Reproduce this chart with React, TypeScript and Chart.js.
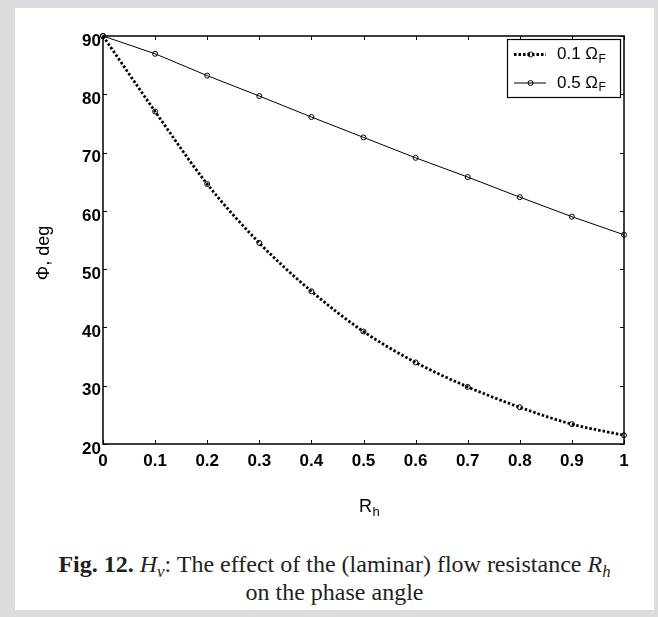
import React, { useEffect, useRef } from "react";
import { Chart, registerables } from "chart.js";

Chart.register(...registerables);

// ---- data ----
const xValues = [0, 0.1, 0.2, 0.3, 0.4, 0.5, 0.6, 0.7, 0.8, 0.9, 1];
const xTickLabels = ["0", "0.1", "0.2", "0.3", "0.4", "0.5", "0.6", "0.7", "0.8", "0.9", "1"];
const yTicks = [20, 30, 40, 50, 60, 70, 80, 90];
const yTickLabels = ["20", "30", "40", "50", "60", "70", "80", "90"];
const series01 = [90, 77.05, 64.6, 54.5, 46.2, 39.3, 34.0, 29.8, 26.3, 23.4, 21.5];
const series05 = [90, 86.95, 83.2, 79.7, 76.1, 72.6, 69.1, 65.8, 62.35, 59.0, 55.9];
const seriesNames = ["0.1 \u03A9", "0.5 \u03A9"];
const seriesSub = ["F", "F"];
const yTitle = "\u03A6, deg";
const xTitleMain = "R";
const xTitleSub = "h";

const SANS = "'Liberation Sans', Arial, sans-serif";

const overlayPlugin = {
  id: "overlay",
  afterDatasetsDraw(chart: any) {
    const { ctx, chartArea: a, scales } = chart;
    ctx.save();
    ctx.strokeStyle = "#000";
    ctx.lineWidth = 1;
    const tl = 4;
    ctx.beginPath();
    scales.x.ticks.forEach((t: any) => {
      const px = Math.round(scales.x.getPixelForValue(t.value)) + 0.5;
      ctx.moveTo(px, a.bottom);
      ctx.lineTo(px, a.bottom - tl);
      ctx.moveTo(px, a.top);
      ctx.lineTo(px, a.top + tl);
    });
    scales.y.ticks.forEach((t: any) => {
      const py = Math.round(scales.y.getPixelForValue(t.value)) + 0.5;
      ctx.moveTo(a.left, py);
      ctx.lineTo(a.left + tl, py);
      ctx.moveTo(a.right, py);
      ctx.lineTo(a.right - tl, py);
    });
    ctx.stroke();
    ctx.lineWidth = 1.5;
    ctx.strokeRect(a.left, a.top, a.right - a.left, a.bottom - a.top);
    ctx.restore();
  },
  afterDraw(chart: any) {
    const { ctx } = chart;
    ctx.save();
    ctx.fillStyle = "#000";
    // y title
    ctx.save();
    ctx.translate(29, 245);
    ctx.rotate(-Math.PI / 2);
    ctx.font = `18px ${SANS}`;
    ctx.textAlign = "center";
    ctx.textBaseline = "middle";
    ctx.fillText(yTitle, 0, 0);
    ctx.restore();
    // x title
    ctx.font = `18px ${SANS}`;
    ctx.textAlign = "left";
    ctx.textBaseline = "alphabetic";
    ctx.fillText(xTitleMain, 344, 504);
    const rw = ctx.measureText(xTitleMain).width;
    ctx.font = `13px ${SANS}`;
    ctx.fillText(xTitleSub, 344 + rw + 0.5, 508);

    // legend
    const bx = 492, by = 31, bw = 113, bh = 58;
    ctx.fillStyle = "#fff";
    ctx.fillRect(bx, by, bw, bh);
    ctx.strokeStyle = "#000";
    ctx.lineWidth = 1.2;
    ctx.strokeRect(bx + 0.5, by + 0.5, bw, bh);
    const rows = [46.5, 75];
    chart.data.datasets.forEach((ds: any, i: number) => {
      const y = rows[i];
      ctx.save();
      ctx.strokeStyle = ds.borderColor;
      ctx.lineWidth = ds.borderWidth;
      ctx.setLineDash(ds.borderDash || []);
      ctx.beginPath();
      ctx.moveTo(499, y);
      ctx.lineTo(531, y);
      ctx.stroke();
      ctx.setLineDash([]);
      ctx.lineWidth = ds.pointBorderWidth;
      ctx.beginPath();
      ctx.arc(515.5, y, ds.pointRadius, 0, Math.PI * 2);
      ctx.stroke();
      ctx.restore();
      ctx.fillStyle = "#000";
      ctx.font = `17px ${SANS}`;
      ctx.textBaseline = "middle";
      ctx.textAlign = "left";
      ctx.fillText(seriesNames[i], 542, y);
      const w = ctx.measureText(seriesNames[i]).width;
      ctx.font = `12px ${SANS}`;
      ctx.fillText(seriesSub[i], 542 + w + 0.5, y + 5);
    });
    ctx.restore();
  },
};

export default function App() {
  const ref = useRef<HTMLCanvasElement>(null);
  useEffect(() => {
    const chart = new Chart(ref.current as HTMLCanvasElement, {
      type: "line",
      data: {
        datasets: [
          {
            label: seriesNames[0],
            data: xValues.map((x, i) => ({ x, y: series01[i] })),
            borderColor: "#000",
            borderWidth: 2.8,
            borderDash: [2.5, 2],
            pointRadius: 2.5,
            pointBorderWidth: 1,
            pointBorderColor: "#000",
            pointBackgroundColor: "transparent",
            cubicInterpolationMode: "monotone",
            fill: false,
            clip: false,
          } as any,
          {
            label: seriesNames[1],
            data: xValues.map((x, i) => ({ x, y: series05[i] })),
            borderColor: "#000",
            borderWidth: 1,
            pointRadius: 2.5,
            pointBorderWidth: 1,
            pointBorderColor: "#000",
            pointBackgroundColor: "transparent",
            tension: 0,
            fill: false,
            clip: false,
          } as any,
        ],
      },
      options: {
        responsive: false,
        animation: false,
        events: [],
        layout: { padding: { left: 0, top: 28, right: 30, bottom: 0 } },
        plugins: { legend: { display: false }, tooltip: { enabled: false } },
        scales: {
          x: {
            type: "linear",
            min: 0,
            max: 1,
            afterBuildTicks: (s: any) => {
              s.ticks = xValues.map((v) => ({ value: v }));
            },
            afterFit: (s: any) => {
              s.height = 84;
            },
            ticks: {
              callback: (_v: any, i: number) => xTickLabels[i],
              font: { family: SANS, size: 17, weight: "bold" },
              color: "#000",
              padding: 7,
              maxRotation: 0,
              autoSkip: false,
            },
            grid: { display: false, drawTicks: false },
            border: { display: false },
          },
          y: {
            type: "linear",
            min: 20,
            max: 90,
            afterBuildTicks: (s: any) => {
              s.ticks = yTicks.map((v) => ({ value: v }));
            },
            afterFit: (s: any) => {
              s.width = 88;
            },
            ticks: {
              callback: (_v: any, i: number) => yTickLabels[i],
              font: { family: SANS, size: 17, weight: "bold" },
              color: "#000",
              padding: 2,
              labelOffset: 5,
              autoSkip: false,
            },
            grid: { display: false, drawTicks: false },
            border: { display: false },
          },
        },
      } as any,
      plugins: [overlayPlugin],
    });
    return () => chart.destroy();
  }, []);

  const subStyle: React.CSSProperties = { fontSize: "0.7em", lineHeight: 0, verticalAlign: "-0.3em" };

  return (
    <div style={{ position: "absolute", left: 0, top: 0, width: 658, height: 617, background: "#dcdde0", overflow: "hidden" }}>
      <div style={{ position: "absolute", left: 15, top: 8, width: 639, height: 602, background: "#fff" }}>
        <canvas ref={ref} width={639} height={520} style={{ position: "absolute", left: 0, top: 0, width: 639, height: 520 }} />
        <div
          style={{
            position: "absolute",
            left: 0,
            top: 542,
            width: 639,
            textAlign: "center",
            fontFamily: "'Liberation Serif', 'Times New Roman', serif",
            fontSize: 24,
            lineHeight: "28px",
            color: "#231f20",
          }}
        >
          <b>Fig. 12.</b> <i>H<sub style={subStyle}>v</sub></i>: The effect of the (laminar) flow resistance{" "}
          <i>R<sub style={subStyle}>h</sub></i>
          <br />
          on the phase angle
        </div>
      </div>
    </div>
  );
}
